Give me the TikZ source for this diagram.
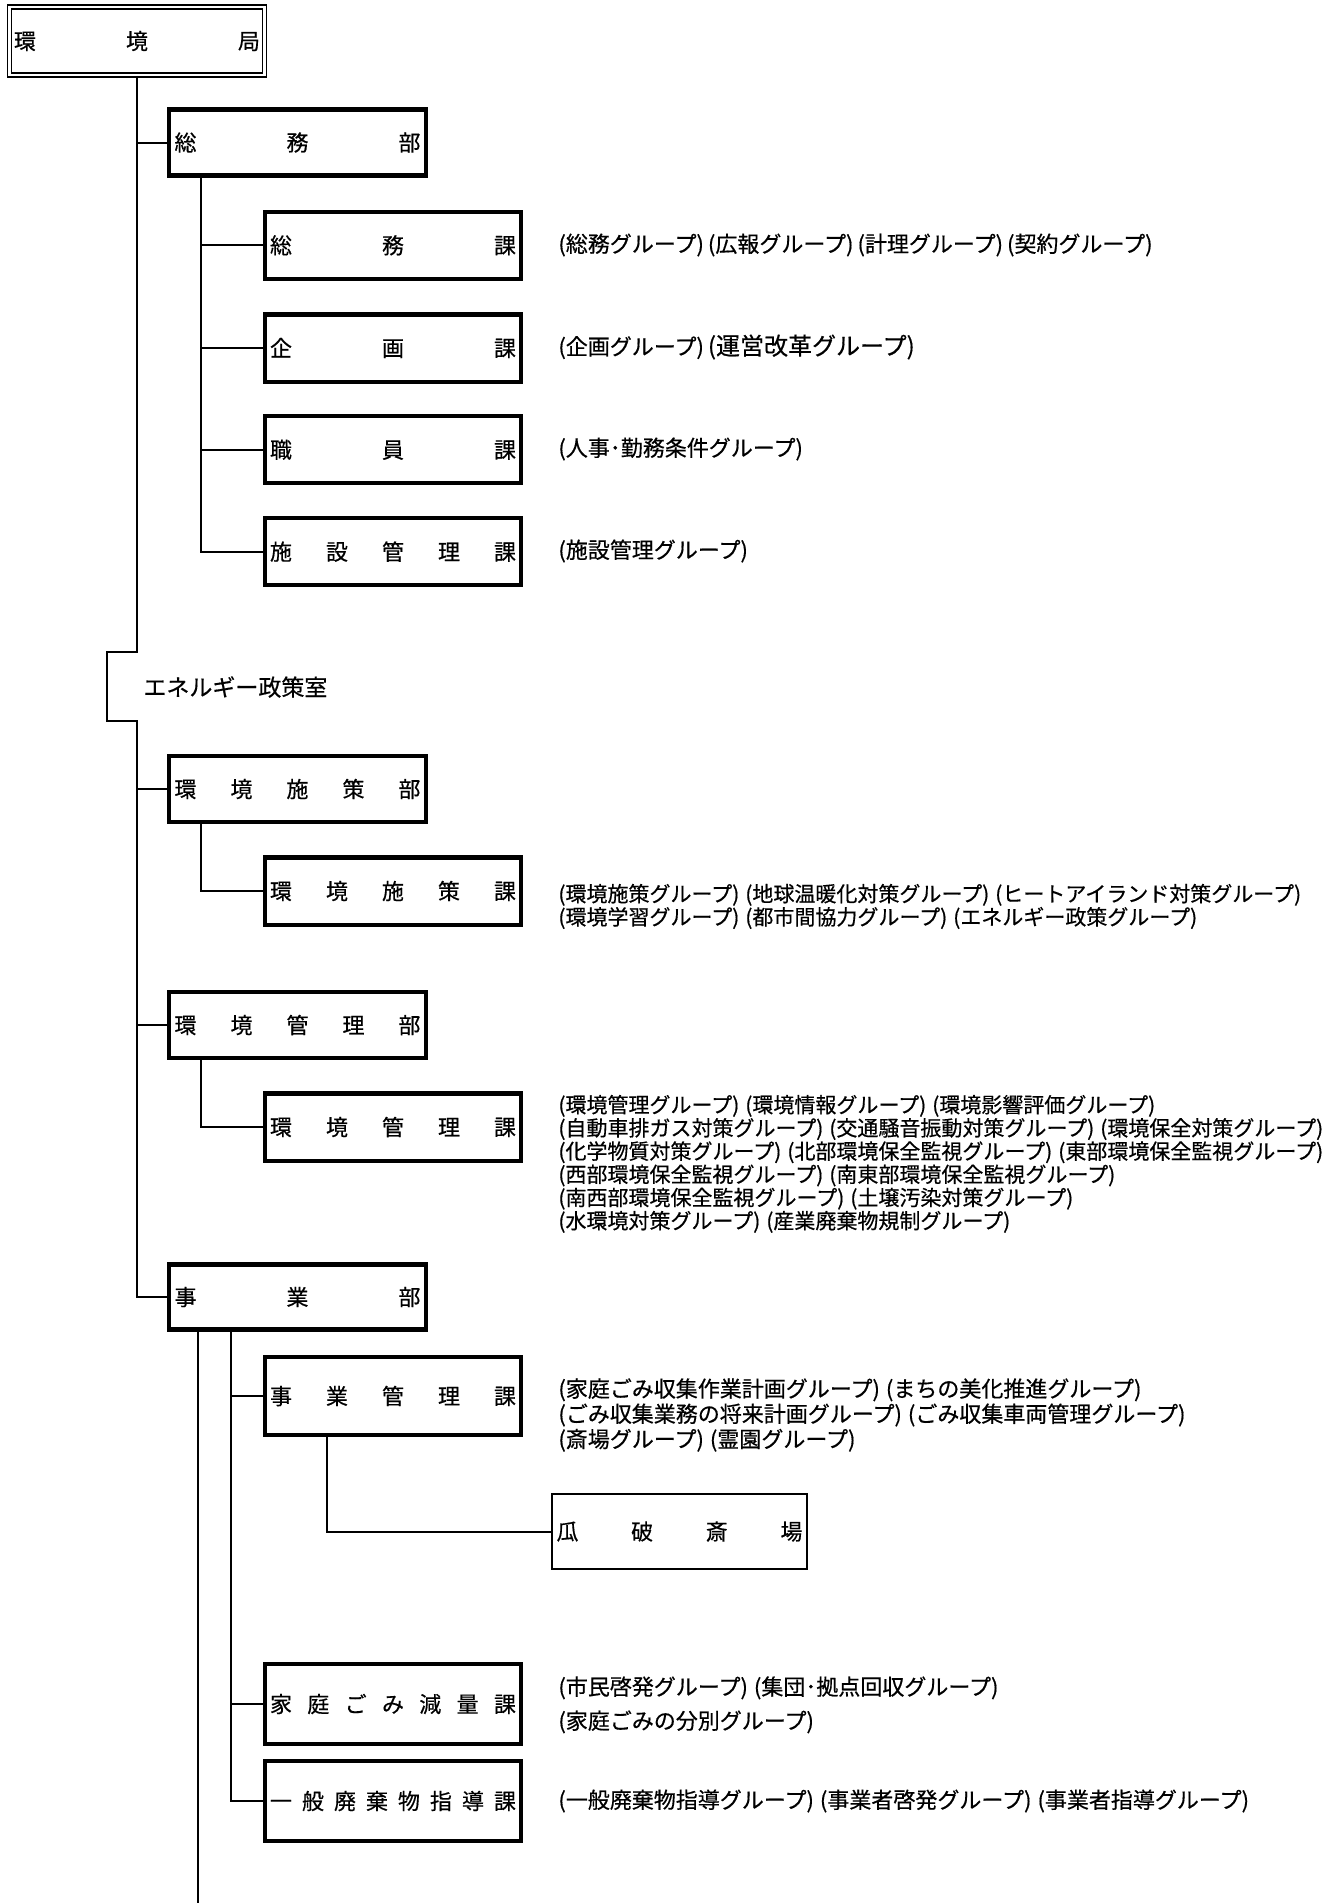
\documentclass[tikz,border=0pt]{standalone}
\usepackage{fontspec}
\newfontfamily\jpfont[FakeBold=0.5]{Noto Sans CJK JP}
\usepackage{tikz}

\newcommand{\boxlabel}[1]{\hbox to 123pt{#1}}
\newcommand{\grpgap}{\hspace{3pt}}

\tikzset{
  orgline/.style={line width=1pt},
  bubox/.style={draw, line width=2.1pt, inner sep=0pt, minimum width=128.5pt, minimum height=33pt, font=\jpfont\fontsize{11}{13}\selectfont},
  kabox/.style={bubox, minimum width=128pt, minimum height=33.6pt},
  thinbox/.style={bubox, line width=1pt},
  grouptext/.style={inner sep=0pt, align=left, font=\jpfont\fontsize{10.5}{11.6}\selectfont},
  biggroup/.style={grouptext, font=\jpfont\fontsize{11}{12.6}\selectfont},
}

\begin{document}
\begin{tikzpicture}[x=0.5pt,y=0.5pt,yscale=-1]
\useasboundingbox (0,0) rectangle (1336,1903);

%Shape: Double box
\node[bubox, line width=0.9pt, double, double distance=1.1pt, minimum width=127.5pt, minimum height=34pt] (kyoku) at (137,41) {\boxlabel{環\hfill 境\hfill 局}};

%Shape: 部 boxes
\node[bubox] (soumubu) at (297.5,142.5) {\boxlabel{総\hfill 務\hfill 部}};
\node[bubox] (kankyoshisakubu) at (297.5,789) {\boxlabel{環\hfill 境\hfill 施\hfill 策\hfill 部}};
\node[bubox] (kankyokanribu) at (297.5,1025) {\boxlabel{環\hfill 境\hfill 管\hfill 理\hfill 部}};
\node[bubox, minimum height=32.5pt] (jigyobu) at (297.5,1297) {\boxlabel{事\hfill 業\hfill 部}};

%Shape: 課 boxes
\node[kabox] (soumuka) at (393,245.3) {\boxlabel{総\hfill 務\hfill 課}};
\node[kabox] (kikakuka) at (393,348) {\boxlabel{企\hfill 画\hfill 課}};
\node[kabox] (shokuinka) at (393,449.7) {\boxlabel{職\hfill 員\hfill 課}};
\node[kabox] (shisetsuka) at (393,551.6) {\boxlabel{施\hfill 設\hfill 管\hfill 理\hfill 課}};
\node[kabox] (kankyoshisakuka) at (393,891) {\boxlabel{環\hfill 境\hfill 施\hfill 策\hfill 課}};
\node[kabox] (kankyokanrika) at (393,1127) {\boxlabel{環\hfill 境\hfill 管\hfill 理\hfill 課}};
\node[kabox, minimum height=39pt] (jigyokanrika) at (393,1396) {\boxlabel{事\hfill 業\hfill 管\hfill 理\hfill 課}};
\node[kabox, minimum height=40pt] (kateigomi) at (393,1704) {\boxlabel{家\hfill 庭\hfill ご\hfill み\hfill 減\hfill 量\hfill 課}};
\node[kabox, minimum height=40pt] (ippanhaiki) at (393,1801) {\boxlabel{一\hfill 般\hfill 廃\hfill 棄\hfill 物\hfill 指\hfill 導\hfill 課}};

%Shape: thin box
\node[thinbox, minimum width=127.5pt, minimum height=37.5pt] (uryu) at (679.5,1531.5) {\boxlabel{瓜\hfill 破\hfill 斎\hfill 場}};

% Text Node
\node[inner sep=0pt, anchor=west, font=\jpfont\fontsize{11.5}{13}\selectfont] (energy) at (143,687) {エネルギー政策室};

%Straight Lines: main line
\coordinate (jogtop) at (137,652);
\coordinate (jogbot) at (137,721);
\draw[orgline] (kyoku.south) -- (jogtop) -| (107,686.5) |- (jogbot) |- (jigyobu.west);
\draw[orgline] (kyoku.south |- soumubu.west) -- (soumubu.west);
\draw[orgline] (kyoku.south |- kankyoshisakubu.west) -- (kankyoshisakubu.west);
\draw[orgline] (kyoku.south |- kankyokanribu.west) -- (kankyokanribu.west);

%Straight Lines: 総務部
\coordinate (soumustem) at ([xshift=17pt]soumubu.south west);
\draw[orgline] (soumustem) |- (shisetsuka.west);
\draw[orgline] (soumustem |- soumuka.west) -- (soumuka.west);
\draw[orgline] (soumustem |- kikakuka.west) -- (kikakuka.west);
\draw[orgline] (soumustem |- shokuinka.west) -- (shokuinka.west);

%Straight Lines: 環境施策部, 環境管理部
\coordinate (shisakustem) at ([xshift=17pt]kankyoshisakubu.south west);
\draw[orgline] (shisakustem) |- (kankyoshisakuka.west);
\coordinate (kanristem) at ([xshift=17pt]kankyokanribu.south west);
\draw[orgline] (kanristem) |- (kankyokanrika.west);

%Straight Lines: 事業部
\coordinate (jigyostemA) at ([xshift=15.5pt]jigyobu.south west);
\coordinate (jigyostemB) at ([xshift=32pt]jigyobu.south west);
\coordinate (jigyoend) at (jigyostemA |- 0,1903);
\draw[orgline] (jigyostemA) -- (jigyoend);
\draw[orgline] (jigyostemB) |- (ippanhaiki.west);
\draw[orgline] (jigyostemB |- jigyokanrika.west) -- (jigyokanrika.west);
\draw[orgline] (jigyostemB |- kateigomi.west) -- (kateigomi.west);
\coordinate (uryustem) at ([xshift=32pt]jigyokanrika.south west);
\draw[orgline] (uryustem) |- (uryu.west);

% Text Node: groups
\node[biggroup, anchor=west] (soumug) at (558,245) {(総務グループ)\hspace{2pt}(広報グループ)\hspace{2pt}(計理グループ)\hspace{2pt}(契約グループ)};
\node[biggroup, anchor=west] (kikakug) at (558,347) {(企画グループ)\hspace{2pt}{\fontsize{12}{13}\selectfont (運営改革グループ)}};
\node[biggroup, anchor=west] (shokuing) at (558,449) {(人事･勤務条件グループ)};
\node[biggroup, anchor=west] (shisetsug) at (558,551) {(施設管理グループ)};
\node[grouptext, anchor=north west] (shisakug) at (558,883.5) {(環境施策グループ)\grpgap(地球温暖化対策グループ)\grpgap(ヒートアイランド対策グループ)\\(環境学習グループ)\grpgap(都市間協力グループ)\grpgap(エネルギー政策グループ)};
\node[grouptext, anchor=north west] (kanrig) at (558,1094.5) {(環境管理グループ)\grpgap(環境情報グループ)\grpgap(環境影響評価グループ)\\(自動車排ガス対策グループ)\grpgap(交通騒音振動対策グループ)\grpgap(環境保全対策グループ)\\(化学物質対策グループ)\grpgap(北部環境保全監視グループ)\grpgap(東部環境保全監視グループ)\\(西部環境保全監視グループ)\grpgap(南東部環境保全監視グループ)\\(南西部環境保全監視グループ)\grpgap(土壌汚染対策グループ)\\(水環境対策グループ)\grpgap(産業廃棄物規制グループ)};
\node[biggroup, anchor=north west] (jigyokanrig) at (558,1378) {(家庭ごみ収集作業計画グループ)\grpgap(まちの美化推進グループ)\\(ごみ収集業務の将来計画グループ)\grpgap(ごみ収集車両管理グループ)\\(斎場グループ)\grpgap(霊園グループ)};
\node[biggroup, anchor=north west, font=\jpfont\fontsize{11}{17}\selectfont] (kateigomig) at (558,1676) {(市民啓発グループ)\grpgap(集団･拠点回収グループ)\\(家庭ごみの分別グループ)};
\node[biggroup, anchor=west] (ippang) at (558,1801) {(一般廃棄物指導グループ)\grpgap(事業者啓発グループ)\grpgap(事業者指導グループ)};

\end{tikzpicture}
\end{document}
